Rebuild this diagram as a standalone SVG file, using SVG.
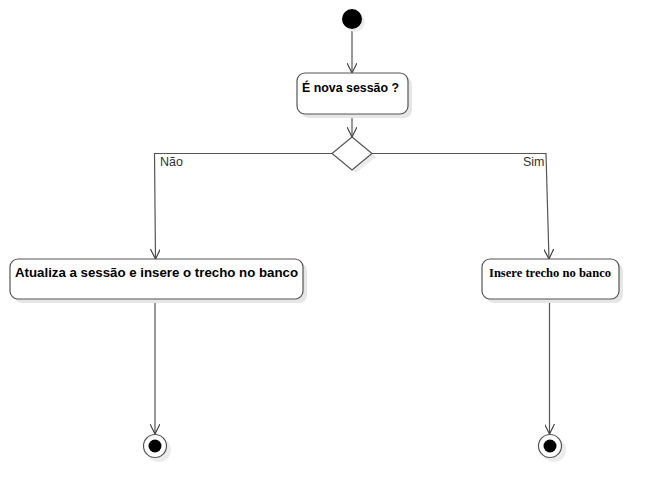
<svg xmlns="http://www.w3.org/2000/svg" width="659" height="499" viewBox="0 0 659 499">
<style>
.box{fill:#fff;stroke:#555;stroke-width:1.2}
.shadow{fill:#e6e6e6}
.edge{fill:none;stroke:#555;stroke-width:1.2}
.t{font-family:"Liberation Sans",Arial,sans-serif;font-size:13px;font-weight:bold;fill:#000}
.ts{font-family:"Liberation Serif","Times New Roman",serif;font-size:12.5px;font-weight:bold;fill:#000}
.lbl{font-family:"Liberation Sans",Arial,sans-serif;font-size:12.5px;fill:#333}
</style>
<defs>
<marker id="arr" viewBox="0 0 10 10" refX="10" refY="5" markerWidth="10" markerHeight="10" markerUnits="userSpaceOnUse" orient="auto">
<path d="M0,0 L10,5 L0,10" fill="none" stroke="#444" stroke-width="1.2"/>
</marker>
</defs>
<g id="connectors">
<line class="edge" x1="352" y1="29" x2="352" y2="73" marker-end="url(#arr)"/>
<line class="edge" x1="352" y1="114" x2="352" y2="137" marker-end="url(#arr)"/>
<polyline class="edge" points="332,153.5 154.5,153.5 155.5,259" marker-end="url(#arr)"/>
<polyline class="edge" points="372,153.5 546,153.5 549,259" marker-end="url(#arr)"/>
<line class="edge" x1="155" y1="299" x2="155" y2="434" marker-end="url(#arr)"/>
<line class="edge" x1="549.5" y1="299" x2="549.5" y2="434" marker-end="url(#arr)"/>
<text class="lbl" x="160" y="166">Não</text>
<text class="lbl" x="523" y="166">Sim</text>
</g>
<g id="start">
<circle cx="355" cy="22" r="10" fill="#ececec"/>
<circle cx="352" cy="19" r="10" fill="#000"/>
</g>
<g id="nova-sessao">
<rect class="shadow" x="301" y="77" width="111" height="41" rx="8"/>
<rect class="box" x="297" y="73" width="111" height="41" rx="8"/>
<text class="t" x="302" y="92" textLength="97" lengthAdjust="spacingAndGlyphs">É nova sessão ?</text>
</g>
<g id="decision">
<polygon points="356,141 376,157 356,173 336,157" fill="#ececec"/>
<polygon points="352,137 372,153.5 352,170 332,153.5" fill="#fff" stroke="#555" stroke-width="1.2"/>
</g>
<g id="atualiza">
<rect class="shadow" x="14" y="263" width="293" height="40" rx="8"/>
<rect class="box" x="10" y="259" width="293" height="40" rx="8"/>
<text class="t" x="15" y="277" textLength="283" lengthAdjust="spacingAndGlyphs">Atualiza a sessão e insere o trecho no banco</text>
</g>
<g id="insere">
<rect class="shadow" x="486" y="263" width="137" height="40" rx="8"/>
<rect class="box" x="482" y="259" width="137" height="40" rx="8"/>
<text class="ts" x="489" y="277" textLength="122" lengthAdjust="spacingAndGlyphs">Insere trecho no banco</text>
</g>
<g id="end-left">
<circle cx="159" cy="450" r="12" fill="#ececec"/>
<circle cx="155" cy="446" r="11.5" fill="#fff" stroke="#555" stroke-width="1.2"/>
<circle cx="155" cy="446" r="6.5" fill="#000"/>
</g>
<g id="end-right">
<circle cx="554" cy="450" r="12" fill="#ececec"/>
<circle cx="550" cy="446" r="11.5" fill="#fff" stroke="#555" stroke-width="1.2"/>
<circle cx="550" cy="446" r="6.5" fill="#000"/>
</g>
</svg>
